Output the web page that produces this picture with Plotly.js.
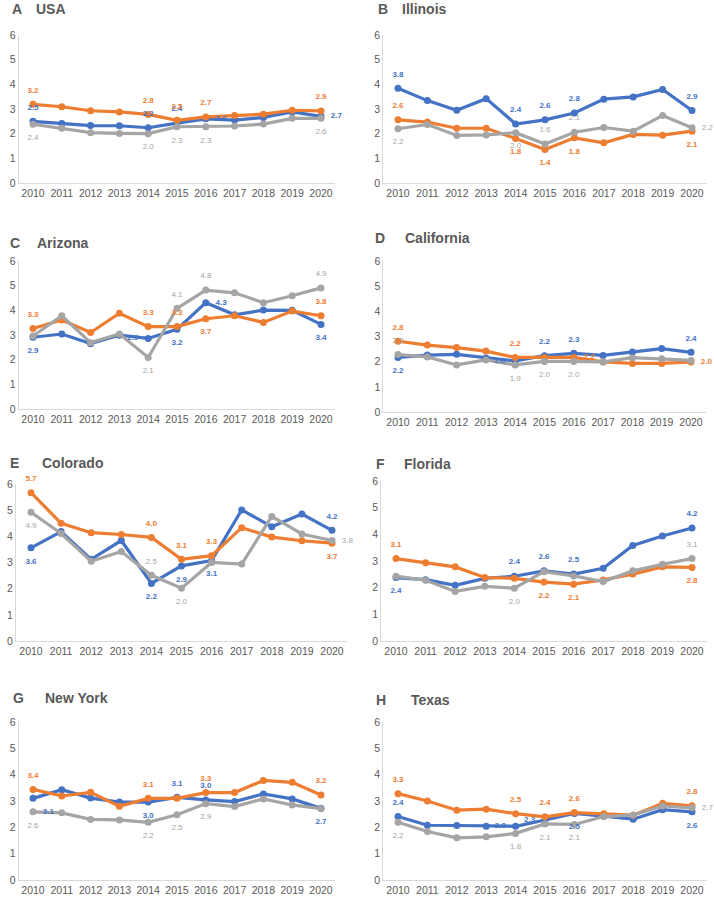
<!DOCTYPE html>
<html>
<head>
<meta charset="utf-8">
<script src="https://cdn.plot.ly/plotly-3.0.1.min.js"></script>
<style>html,body{margin:0;padding:0;background:#fff;}#chart{width:714px;height:898px;}</style>
</head>
<body>
<div id="chart"></div>
<script>
// ---------- DATA ----------
const years = [2010, 2011, 2012, 2013, 2014, 2015, 2016, 2017, 2018, 2019, 2020];
const yTicks = [0, 1, 2, 3, 4, 5, 6];
const panelLetters = ['A', 'B', 'C', 'D', 'E', 'F', 'G', 'H'];
const panelNames = ['USA', 'Illinois', 'Arizona', 'California', 'Colorado', 'Florida', 'New York', 'Texas'];

const usaBlue   = [2.50, 2.41, 2.33, 2.32, 2.24, 2.43, 2.60, 2.55, 2.66, 2.88, 2.70];
const usaOrange = [3.19, 3.09, 2.93, 2.88, 2.78, 2.54, 2.68, 2.74, 2.79, 2.95, 2.92];
const usaGray   = [2.38, 2.22, 2.04, 2.01, 2.00, 2.28, 2.28, 2.31, 2.39, 2.62, 2.62];

const ilBlue   = [3.84, 3.34, 2.95, 3.42, 2.39, 2.56, 2.84, 3.40, 3.49, 3.79, 2.94];
const ilOrange = [2.56, 2.47, 2.22, 2.22, 1.80, 1.36, 1.83, 1.63, 1.97, 1.94, 2.10];
const ilGray   = [2.20, 2.37, 1.93, 1.95, 2.04, 1.58, 2.06, 2.25, 2.10, 2.74, 2.24];

const azBlue   = [2.91, 3.04, 2.65, 2.99, 2.86, 3.23, 4.31, 3.82, 4.01, 4.00, 3.43];
const azOrange = [3.26, 3.61, 3.10, 3.88, 3.34, 3.34, 3.66, 3.78, 3.51, 3.97, 3.78];
const azGray   = [2.96, 3.78, 2.69, 3.04, 2.09, 4.08, 4.82, 4.71, 4.31, 4.59, 4.91];

const caBlue   = [2.17, 2.26, 2.29, 2.15, 2.03, 2.24, 2.33, 2.25, 2.38, 2.52, 2.37];
const caOrange = [2.81, 2.66, 2.56, 2.42, 2.17, 2.17, 2.17, 1.99, 1.93, 1.93, 1.99];
const caGray   = [2.28, 2.19, 1.87, 2.07, 1.87, 2.01, 2.01, 1.99, 2.16, 2.12, 2.05];

const coBlue   = [3.56, 4.18, 3.12, 3.84, 2.20, 2.87, 3.07, 5.01, 4.37, 4.85, 4.23];
const coOrange = [5.67, 4.50, 4.14, 4.07, 3.96, 3.12, 3.26, 4.33, 3.97, 3.83, 3.74];
const coGray   = [4.92, 4.11, 3.05, 3.42, 2.51, 2.02, 3.00, 2.94, 4.76, 4.09, 3.84];

const flBlue   = [2.38, 2.30, 2.09, 2.35, 2.43, 2.63, 2.51, 2.73, 3.58, 3.94, 4.24];
const flOrange = [3.09, 2.93, 2.78, 2.38, 2.35, 2.21, 2.13, 2.29, 2.51, 2.78, 2.76];
const flGray   = [2.43, 2.28, 1.86, 2.05, 1.98, 2.60, 2.44, 2.23, 2.63, 2.88, 3.09];

const nyBlue   = [3.10, 3.43, 3.11, 2.96, 2.96, 3.14, 3.04, 2.98, 3.27, 3.08, 2.72];
const nyOrange = [3.44, 3.19, 3.33, 2.80, 3.10, 3.10, 3.32, 3.32, 3.78, 3.71, 3.23];
const nyGray   = [2.59, 2.55, 2.30, 2.28, 2.19, 2.48, 2.90, 2.79, 3.08, 2.85, 2.71];

const txBlue   = [2.41, 2.08, 2.07, 2.04, 2.04, 2.28, 2.53, 2.42, 2.31, 2.67, 2.59];
const txOrange = [3.28, 3.00, 2.65, 2.69, 2.52, 2.40, 2.56, 2.52, 2.46, 2.91, 2.82];
const txGray   = [2.19, 1.84, 1.60, 1.64, 1.77, 2.13, 2.11, 2.41, 2.47, 2.81, 2.74];

const blueSeries   = [usaBlue, ilBlue, azBlue, caBlue, coBlue, flBlue, nyBlue, txBlue];
const orangeSeries = [usaOrange, ilOrange, azOrange, caOrange, coOrange, flOrange, nyOrange, txOrange];
const graySeries   = [usaGray, ilGray, azGray, caGray, coGray, flGray, nyGray, txGray];

// ---------- LABEL PLACEMENT (index -> position code) ----------
const labelPlacement = [
  {blue:{0:'T',4:'T',5:'T',6:'R',10:'R'}, orange:{0:'T',4:'T',5:'T',6:'T',10:'T'}, gray:{0:'B',4:'B',5:'B',6:'B',10:'B'}},
  {blue:{0:'T',4:'T',5:'T',6:'T',10:'T'}, orange:{0:'T',4:'B',5:'B',6:'B',10:'B'}, gray:{0:'B',4:'B',5:'T',6:'T',10:'R'}},
  {blue:{0:'B',4:'L',5:'B',6:'R',10:'B'}, orange:{0:'T',4:'T',5:'T',6:'B',10:'T'}, gray:{4:'B',5:'T',6:'T',10:'T'}},
  {blue:{0:'B',4:'L',5:'T',6:'T',10:'T'}, orange:{0:'T',4:'T',6:'R',10:'R'}, gray:{0:'T',4:'B',5:'B',6:'B'}},
  {blue:{0:'B',4:'B',5:'B',6:'B',10:'T'}, orange:{0:'T',4:'T',5:'T',6:'T',10:'B'}, gray:{0:'B',4:'T',5:'B',10:'R'}},
  {blue:{0:'B',4:'T',5:'T',6:'T',10:'T'}, orange:{0:'T',5:'B',6:'B',10:'B'}, gray:{4:'B',10:'T'}},
  {blue:{0:'BR',4:'B',5:'T',6:'T',10:'B'}, orange:{0:'T',4:'T',6:'T',10:'T'}, gray:{0:'B',4:'B',5:'B',6:'B'}},
  {blue:{0:'T',4:'L',5:'L',6:'B',10:'B'}, orange:{0:'T',4:'T',5:'T',6:'T',10:'T'}, gray:{0:'B',4:'B',5:'B',6:'B',10:'R'}}
];

// ---------- LAYOUT GEOMETRY (pixels) ----------
const W = 714, H = 898;
// [x of 2010, x of 2020, y of 6, y of 0]
const geom = [
  [33, 321, 35, 183],
  [398, 692, 35, 183],
  [33, 321, 261, 409],
  [398, 691, 261, 412],
  [31, 332, 484, 641],
  [396, 692, 481, 641],
  [33, 321, 722, 880],
  [398, 692, 722, 880]
];
// [letter x, name x, title y]
const titleGeom = [
  [10, 34, 9], [376, 400, 9],
  [8, 35, 243], [373, 403, 238],
  [8, 40, 463], [374, 402, 464],
  [11, 43, 698], [374, 409, 700]
];

const colors = {blue: '#4472C4', orange: '#ED7D31', gray: '#A5A5A5'};
const posMap = {T: 'top center', B: 'bottom center', R: 'middle right', L: 'middle left', BR: 'bottom right'};
const FONT = 'Liberation Sans, Arial, sans-serif';

const lineTraces = [];
const labelTraces = [];
const layout = {
  width: W, height: H,
  margin: {l: 0, r: 0, t: 0, b: 0},
  paper_bgcolor: '#ffffff', plot_bgcolor: '#ffffff',
  showlegend: false,
  font: {family: FONT, color: '#595959'},
  annotations: []
};

function makeLine(vals, key, s) {
  return {
    x: years, y: vals,
    xaxis: 'x' + s, yaxis: 'y' + s,
    type: 'scatter', mode: 'lines+markers',
    line: {color: colors[key], width: 3.2},
    marker: {color: colors[key], size: 7},
    cliponaxis: false,
    hoverinfo: 'skip'
  };
}

function makeLabels(vals, key, p, s) {
  const place = labelPlacement[p][key];
  const text = vals.map((v, i) => {
    if (place[i] === undefined) return '';
    const t = v.toFixed(1);
    return key === 'gray' ? t : '<b>' + t + '</b>';
  });
  const tpos = vals.map((v, i) => place[i] ? posMap[place[i]] : 'top center');
  return {
    x: years, y: vals,
    xaxis: 'x' + s, yaxis: 'y' + s,
    type: 'scatter', mode: 'markers+text',
    marker: {color: 'rgba(0,0,0,0)', size: 14},
    text: text, textposition: tpos,
    textfont: {size: 8, color: colors[key], family: FONT},
    cliponaxis: false,
    hoverinfo: 'skip'
  };
}

for (let p = 0; p < 8; p++) {
  const s = p === 0 ? '' : String(p + 1);
  const [x0, x1, yTop, yBot] = geom[p];
  const sp = (x1 - x0) / 10;
  lineTraces.push(makeLine(blueSeries[p], 'blue', s));
  lineTraces.push(makeLine(orangeSeries[p], 'orange', s));
  lineTraces.push(makeLine(graySeries[p], 'gray', s));
  labelTraces.push(makeLabels(blueSeries[p], 'blue', p, s));
  labelTraces.push(makeLabels(orangeSeries[p], 'orange', p, s));
  labelTraces.push(makeLabels(graySeries[p], 'gray', p, s));

  layout['xaxis' + s] = {
    domain: [(x0 - sp / 2) / W, (x1 + sp / 2) / W],
    anchor: 'y' + s,
    range: [years[0] - 0.5, years[years.length - 1] + 0.5],
    tickvals: years, ticktext: years.map(String),
    showgrid: false, zeroline: false,
    showline: true, linecolor: '#d9d9d9', linewidth: 1,
    ticks: '', tickfont: {size: 10.5, color: '#595959'},
    fixedrange: true
  };
  layout['yaxis' + s] = {
    domain: [1 - yBot / H, 1 - yTop / H],
    anchor: 'x' + s,
    range: [0, 6],
    tickvals: yTicks, ticktext: yTicks.map(String),
    showgrid: false, zeroline: false,
    showline: true, linecolor: '#d9d9d9', linewidth: 1,
    ticks: '', tickfont: {size: 10.5, color: '#595959'},
    fixedrange: true
  };

  const [lx, nx, ty] = titleGeom[p];
  layout.annotations.push({
    xref: 'paper', yref: 'paper', x: lx / W, y: 1 - ty / H,
    xanchor: 'left', yanchor: 'middle', showarrow: false,
    text: '<b>' + panelLetters[p] + '</b>',
    font: {size: 14, color: '#595959', family: FONT}
  });
  layout.annotations.push({
    xref: 'paper', yref: 'paper', x: nx / W, y: 1 - ty / H,
    xanchor: 'left', yanchor: 'middle', showarrow: false,
    text: '<b>' + panelNames[p] + '</b>',
    font: {size: 14, color: '#595959', family: FONT}
  });
}

Plotly.newPlot('chart', lineTraces.concat(labelTraces), layout, {displayModeBar: false, staticPlot: true});
</script>
</body>
</html>
